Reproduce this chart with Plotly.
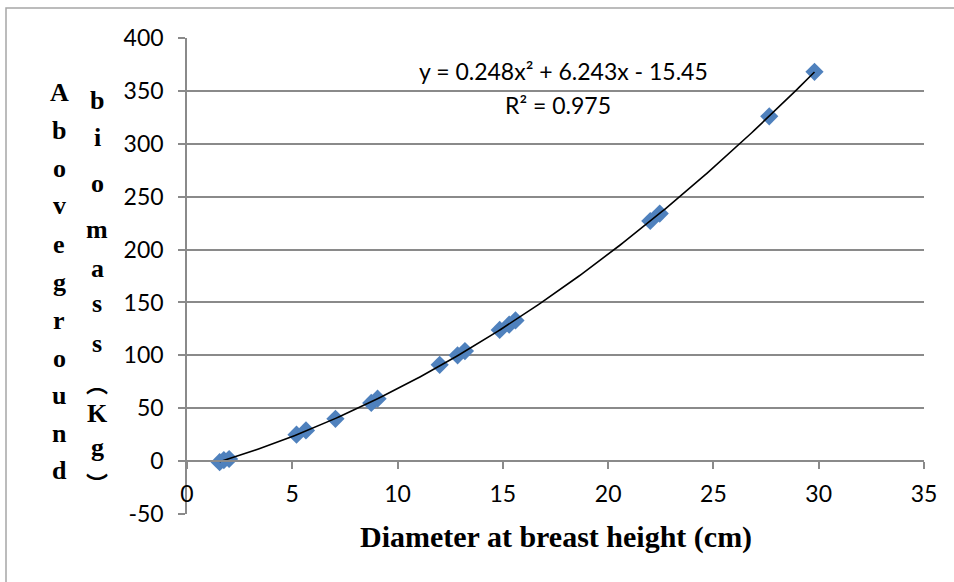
import numpy as np
import plotly.graph_objects as go

# ---- data ----
dbh_cm = [1.55, 1.75, 2.0, 5.2, 5.65, 7.05, 8.75, 9.05, 12.0, 12.85, 13.2,
          14.85, 15.3, 15.6, 22.0, 22.45, 27.65, 29.8]
biomass_kg = [-1, 1, 2, 25, 29, 40, 55, 59, 91, 100, 104,
              124, 129, 133, 227, 234, 326, 368]
x_ticks = [0, 5, 10, 15, 20, 25, 30, 35]
y_ticks = [-50, 0, 50, 100, 150, 200, 250, 300, 350, 400]
y_tick_labels = ["-50", "0", "50", "100", "150", "200", "250", "300", "350", "400"]
equation_text = "y = 0.248x² + 6.243x - 15.45"
r2_text = "R² = 0.975"
x_title = "Diameter at breast height (cm)"
y_title_col1 = list("Aboveground")
y_title_col2 = ["b", "i", "o", "m", "a", "s", "s", "︵", "K", "g", "︶"]

# ---- layout geometry ----
W, H = 954, 582
L, R, T, B = 187, 30, 38, 68
PW, PH = W - L - R, H - T - B


def px(xp):
    return (xp - L) / PW


def py(yp):
    return (H - B - yp) / PH


# quadratic trendline fitted to the data (like Excel's polynomial trendline)
coef = np.polyfit(dbh_cm, biomass_kg, 2)
xfit = np.linspace(min(dbh_cm), max(dbh_cm), 200)
yfit = np.polyval(coef, xfit)

GRID = "#8a8a8a"
fig = go.Figure()
fig.add_trace(go.Scatter(
    x=dbh_cm, y=biomass_kg, mode="markers",
    marker=dict(symbol="diamond", size=14, color="#4F81BD", line=dict(width=0)),
    showlegend=False, hoverinfo="skip"))
fig.add_trace(go.Scatter(
    x=xfit, y=yfit, mode="lines", line=dict(color="black", width=1.6),
    showlegend=False, hoverinfo="skip"))

tickfont = dict(family="Lato", size=23, color="black")
fig.update_layout(
    width=W, height=H, autosize=False,
    margin=dict(l=L, r=R, t=T, b=B, pad=0),
    paper_bgcolor="white", plot_bgcolor="white",
    xaxis=dict(range=[0, 35], tickvals=x_ticks, anchor="free",
               position=50 / 450, showline=True, linecolor=GRID, linewidth=1.5,
               ticks="outside", ticklen=7, tickcolor=GRID, tickwidth=1.5,
               showgrid=False, zeroline=False, tickfont=tickfont,
               ticklabelstandoff=6, automargin=False),
    yaxis=dict(range=[-50, 400], tickvals=y_ticks, ticktext=y_tick_labels,
               showline=True, linecolor=GRID,
               linewidth=1.5, ticks="outside", ticklen=7, tickcolor=GRID,
               tickwidth=1.5, showgrid=True, gridcolor=GRID, gridwidth=1.5,
               zeroline=False, tickfont=tickfont, ticklabelstandoff=10,
               automargin=False),
)

annotations = []
# equation and R^2
eqfont = dict(family="Lato", size=23, color="black")
annotations.append(dict(xref="paper", yref="paper", x=px(563), y=py(71),
                        text=equation_text, showarrow=False, font=eqfont,
                        xanchor="center", yanchor="middle"))
annotations.append(dict(xref="paper", yref="paper", x=px(558), y=py(105),
                        text=r2_text, showarrow=False, font=eqfont,
                        xanchor="center", yanchor="middle"))
# x-axis title
annotations.append(dict(xref="paper", yref="paper", x=px(556), y=py(537),
                        text="<b>%s</b>" % x_title, showarrow=False,
                        font=dict(family="Liberation Serif", size=30, color="black"),
                        xanchor="center", yanchor="middle"))

# y-axis title written as stacked vertical letters in two columns
col1_y = [92, 130, 168, 206, 244, 282, 320, 358, 395, 434, 470]
col2_y = [100, 137, 183, 229, 268, 303, 344, 382, 413, 447, 482]
titlefont = dict(family="Liberation Serif", size=26, color="black")
parenfont = dict(family="Noto Sans CJK SC", size=22, color="black")
for ch, yp in zip(y_title_col1, col1_y):
    annotations.append(dict(xref="paper", yref="paper", x=px(59), y=py(yp),
                            text="<b>%s</b>" % ch, showarrow=False, font=titlefont,
                            xanchor="center", yanchor="middle"))
for ch, yp in zip(y_title_col2, col2_y):
    f = parenfont if ch in "︵︶" else titlefont
    annotations.append(dict(xref="paper", yref="paper", x=px(97), y=py(yp),
                            text="<b>%s</b>" % ch, showarrow=False, font=f,
                            xanchor="center", yanchor="middle"))
fig.update_layout(annotations=annotations)

# outer chart frame
fig.add_shape(type="rect", xref="paper", yref="paper",
              x0=px(6), x1=px(W + 20), y0=py(H + 20), y1=py(8),
              line=dict(color="#a6a6a6", width=1.5), fillcolor="rgba(0,0,0,0)",
              layer="below")

fig.write_html("out.html")
